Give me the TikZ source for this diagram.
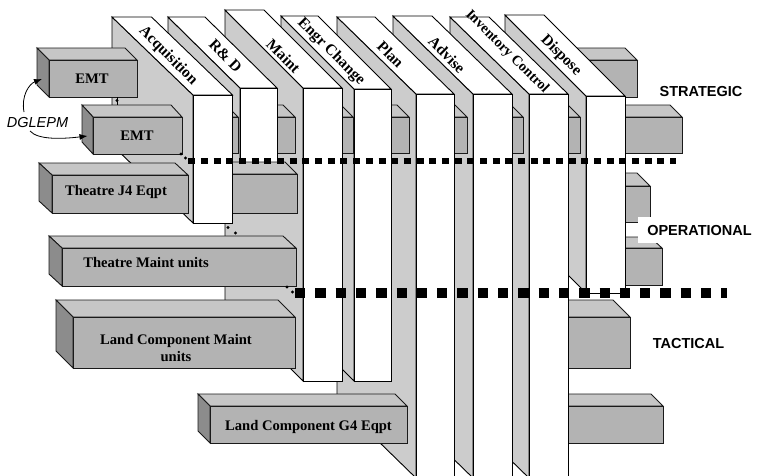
\documentclass[tikz,border=0pt]{standalone}
\usepackage{fontspec}
\setmainfont{Liberation Serif}
\newfontfamily\lvlfont{Liberation Sans}
\usetikzlibrary{arrows.meta}

\definecolor{sidegray}{HTML}{CCCCCC}
\definecolor{frontgray}{HTML}{B3B3B3}
\definecolor{topgray}{HTML}{C6C6C6}
\definecolor{leftgray}{HTML}{8C8C8C}
\definecolor{inkline}{HTML}{1A1A1A}

\tikzset{
  colside/.style={fill=sidegray,draw=black,line width=0.9pt},
  colface/.style={fill=white,draw=black,line width=0.9pt},
  boxtopface/.style={fill=topgray,draw=inkline,line width=0.9pt},
  boxleftface/.style={fill=leftgray,draw=inkline,line width=0.9pt},
  boxfrontface/.style={fill=frontgray,draw=inkline,line width=0.9pt},
  collabel/.style={font=\bfseries\fontsize{15.5}{17}\selectfont,rotate=-45,inner sep=0pt},
  boxlabel/.style={font=\bfseries\fontsize{14.6}{17}\selectfont,inner sep=0pt,align=center},
  levellabel/.style={font=\lvlfont\bfseries\fontsize{14.5}{17}\selectfont,inner sep=0pt},
  tierline/.style={line width=6pt,dash pattern=on 7pt off 5.68pt},
  tierlinewide/.style={line width=10pt,dash pattern=on 10.3pt off 10pt},
  callout/.style={line width=0.8pt,-{Latex[length=8pt,width=6pt]}},
}

% function column: back-left x, back top y, front left x, front right x, front top y, front bottom y
\newcommand{\funccol}[6]{%
  \pgfmathsetmacro{\cw}{#4-#3}%
  \pgfmathsetmacro{\cbr}{#1+\cw}%
  \pgfmathsetmacro{\cbb}{#6-#5+#2}%
  \path[colside] (#1,#2) -- (#3,#5) -- (#3,#6) -- (#1,\cbb) -- cycle;
  \path[colface] (#1,#2) -- (\cbr,#2) -- (#4,#5) -- (#3,#5) -- cycle;
  \path[colface] (#3,#5) rectangle (#4,#6);
}

% organisation box: front face (x1,y1)-(x2,y2), receding by (dx,dy) to the upper left
\newcommand{\levelbox}[6]{%
  \path[boxtopface] (#1-#5,#2-#6) -- (#3-#5,#2-#6) -- (#3,#2) -- (#1,#2) -- cycle;
  \path[boxleftface] (#1-#5,#2-#6) -- (#1,#2) -- (#1,#4) -- (#1-#5,#4-#6) -- cycle;
  \path[boxfrontface] (#1,#2) rectangle (#3,#4);
}

\begin{document}
\begin{tikzpicture}[x=1pt,y=-1pt]
\useasboundingbox (0,0) rectangle (762,475);
\clip (0,0) rectangle (762,475);

% right-hand ends of the organisation boxes, behind the last columns
\levelbox{560}{60}{637}{97}{12}{12}
\levelbox{600}{117}{682}{153.5}{12}{12}
\levelbox{600}{186}{650}{222}{13}{13}
\levelbox{600}{248}{662}{285}{12}{11}
\levelbox{540}{317}{630}{368}{17}{17}
\levelbox{545}{406}{663}{443}{12}{12}

% columns from right to left, with the EMT row showing in each gap
\funccol{505}{15}{586}{625}{96}{293}
\levelbox{545}{117}{580}{153.5}{12}{12}
\funccol{450}{17}{529}{568}{94}{478}
\levelbox{490}{117}{523}{153.5}{12}{12}
\funccol{393}{16}{473}{512}{94}{478}
\levelbox{430}{117}{467}{153.5}{12}{12}
\funccol{337}{17}{416}{454}{94}{478}
\levelbox{370}{117}{409}{153.5}{12}{12}
\funccol{281}{16}{354}{391}{89}{381}
\levelbox{320}{117}{353}{153.5}{12}{12}
\funccol{225}{10}{303}{342}{88}{381}
\levelbox{250}{117}{295}{153.5}{12}{12}
\funccol{168}{17}{240}{277}{88}{200}
\levelbox{200}{117}{238}{153.5}{12}{12}
\levelbox{200}{174}{297}{213}{12}{12}
\funccol{112}{17}{193}{232.5}{95}{223}

% organisation boxes on the left
\levelbox{49}{60}{137}{97}{12}{12}
\levelbox{93}{117}{182}{154}{11}{12}
\levelbox{52}{175}{188}{213}{13}{12}
\levelbox{62}{248}{296}{286}{13}{12}
\levelbox{73}{317}{295}{368}{17}{17}
\levelbox{210}{406}{407}{443}{12}{12}

% column titles
\node[collabel] (acq) at (168,56) {Acquisition};
\node[collabel] (rnd) at (225.5,55.5) {R\& D};
\node[collabel] (mnt) at (283.5,56) {Maint};
\node[collabel] (eng) at (331,52) {Engr Change};
\node[collabel] (pln) at (390.5,54.5) {Plan};
\node[collabel] (adv) at (447,55) {Advise};
\node[collabel,font=\bfseries\fontsize{14.3}{16}\selectfont] (inv) at (507,52) {Inventory Control};
\node[collabel] (dsp) at (561,55.5) {Dispose};

% box titles
\node[boxlabel] (emta) at (92,78.5) {EMT};
\node[boxlabel] (emtb) at (137,136) {EMT};
\node[boxlabel,anchor=base] (tjfour) at (116,195) {Theatre J4 Eqpt};
\node[boxlabel,anchor=base] (tmaint) at (146,267) {Theatre Maint units};
\node[boxlabel] (lcmaint) at (176,348.5) {Land Component Maint\\units};
\node[boxlabel,anchor=base] (lcgfour) at (308.5,430) {Land Component G4 Eqpt};

% tier boundaries
\coordinate (tieraL) at (188.3,160.7);
\coordinate (tieraR) at (676,160.7);
\coordinate (tierbL) at (295,293.3);
\coordinate (tierbR) at (727,293.3);
\draw[tierline] (tieraL) -- (tieraR);
\draw[tierlinewide] (tierbL) -- (tierbR);
\fill (181,154) circle (1.7);
\fill (185.5,158) circle (1.7);
\fill (228,227.5) circle (1.7);
\fill (235.5,233) circle (1.7);
\fill (287,287) circle (1.7);
\fill (292.5,292) circle (1.7);

% tier names
\fill[white] (638,217) rectangle (760,243);
\node[levellabel] (strat) at (701,92) {STRATEGIC};
\node[levellabel] (oper) at (699.5,230) {OPERATIONAL};
\node[levellabel] (tact) at (688.5,343.5) {TACTICAL};

% EMT link and DGLEPM call-outs
\coordinate (emtlinkA) at (117,97);
\coordinate (emtlinkB) at (117,105);
\draw[line width=0.8pt] (emtlinkA) -- (emtlinkB);
\fill (117,100.5) circle (1.7);

\node[font=\lvlfont\itshape\fontsize{14.5}{17}\selectfont,inner sep=0pt] (dglepm) at (37.5,123) {DGLEPM};
\coordinate (dgup) at (24,112);
\coordinate (dgdown) at (30,131);
\coordinate (emtaside) at (42,79);
\coordinate (emtbside) at (87.5,136);
\draw[callout] (dgup) .. controls (21,96) and (29,84) .. (emtaside);
\draw[callout] (dgdown) .. controls (38,140) and (62,139) .. (emtbside);
\end{tikzpicture}
\end{document}
